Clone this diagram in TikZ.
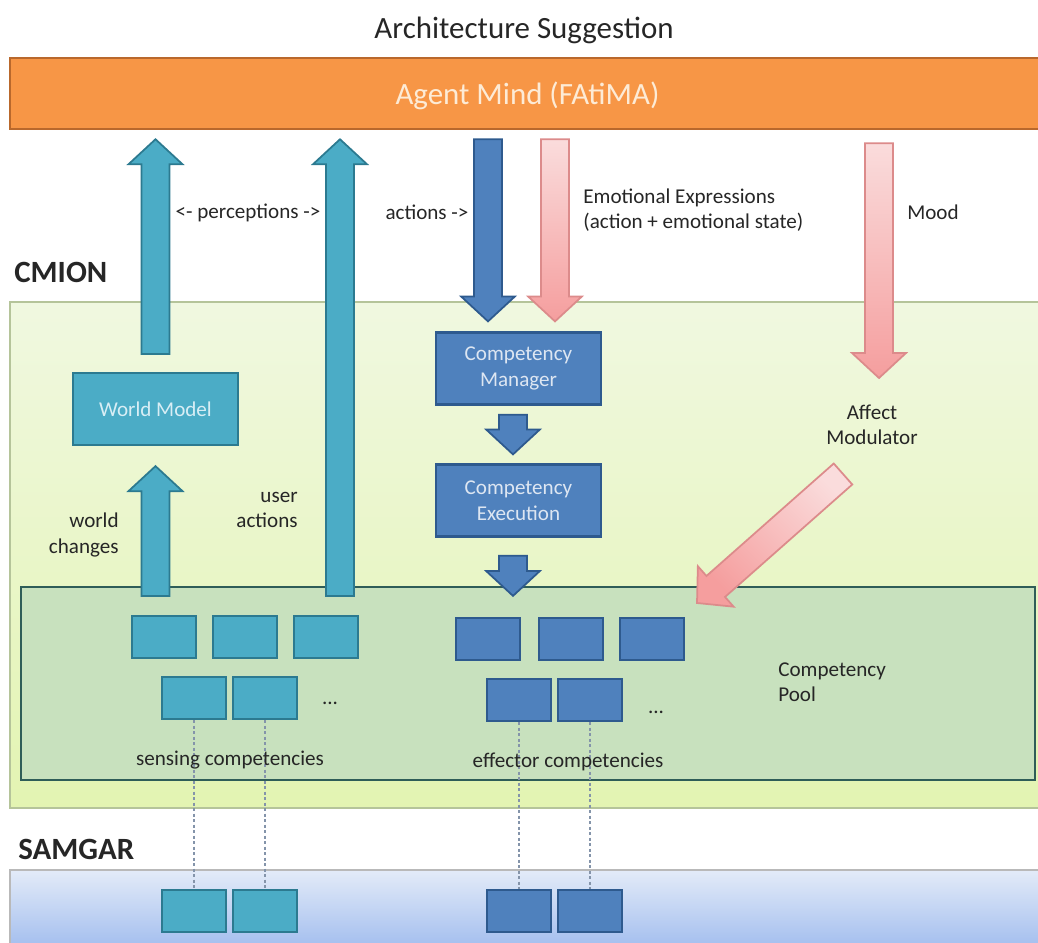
\documentclass[tikz,border=0pt]{standalone}
\usepackage{fontspec}
\setmainfont{Carlito}
\usepackage{tikz}
\usetikzlibrary{calc}

\definecolor{orng}{HTML}{F79646}
\definecolor{orngdk}{HTML}{B9682C}
\definecolor{mindtxt}{HTML}{FDEBD6}
\definecolor{aqua}{HTML}{4BACC6}
\definecolor{aquadk}{HTML}{2C7A90}
\definecolor{aqualt}{HTML}{D8EEF5}
\definecolor{blu}{HTML}{4F81BD}
\definecolor{bludk}{HTML}{2E5A8E}
\definecolor{blult}{HTML}{DDE6F2}
\definecolor{pinklt}{HTML}{FADCDC}
\definecolor{pinkdk}{HTML}{F59E9E}
\definecolor{pinkbd}{HTML}{DC8B8B}
\definecolor{cmiontop}{HTML}{F0F8E0}
\definecolor{cmionbot}{HTML}{E3F4B2}
\definecolor{cmionbd}{HTML}{B5C49A}
\definecolor{samtop}{HTML}{E3EBF8}
\definecolor{sambot}{HTML}{A6C0EF}
\definecolor{poolgr}{HTML}{C8E1BE}
\definecolor{pooldk}{HTML}{2F5D58}
\definecolor{dotgr}{HTML}{8494AA}
\definecolor{txt}{HTML}{262626}

% block arrow from #2 to #3, tip at #3
\newcommand{\fatarrow}[3]{%
  \coordinate (neck) at ($(#3)!5mm!(#2)$);
  \draw[#1] ($(#2)!2.8mm!90:(#3)$) -- ($(neck)!2.8mm!90:(#3)$)
    -- ($(neck)!5.4mm!90:(#3)$) -- (#3) -- ($(neck)!5.4mm!-90:(#3)$)
    -- ($(neck)!2.8mm!-90:(#3)$) -- ($(#2)!2.8mm!-90:(#3)$) -- cycle;}

\begin{document}
\begin{tikzpicture}[x=0.2mm, y=-0.2mm, font=\fontsize{12}{14.5}\selectfont, text=txt,
  big/.style={font=\fontsize{17.6}{21}\selectfont},
  hd/.style={font=\fontsize{17.6}{21}\selectfont\bfseries, anchor=west, inner sep=0pt},
  lbl/.style={inner sep=0pt, align=center},
  bx/.style={draw=bludk, fill=blu, line width=0.45mm, text=blult, align=center,
    minimum width=33mm, minimum height=14.4mm, inner sep=0pt},
  sq/.style={draw=bludk, fill=blu, line width=0.4mm, minimum width=12.8mm,
    minimum height=8.4mm, inner sep=0pt},
  sqa/.style={sq, draw=aquadk, fill=aqua},
  upa/.style={draw=aquadk, fill=aqua, line width=0.35mm},
  dna/.style={draw=bludk, fill=blu, line width=0.35mm},
  pk/.style={draw=pinkbd, top color=pinklt, bottom color=pinkdk, line width=0.35mm},
  dots/.style={draw=dotgr, line width=0.4mm, dash pattern=on 0.6mm off 0.5mm}]
  \useasboundingbox (0,0) rectangle (1038,942);

  % layers
  \draw[draw=cmionbd, line width=0.3mm, top color=cmiontop, bottom color=cmionbot]
    (10,302) rectangle (1045,808);
  \draw[draw=gray!55, line width=0.3mm, top color=samtop, bottom color=sambot]
    (10,870) rectangle (1045,944);
  \node[draw=pooldk, fill=poolgr, line width=0.45mm, minimum width=202.8mm,
    minimum height=38.6mm] (pool) at (528,683.5) {};

  \node[big] (title) at (524,30) {Architecture Suggestion};
  \node[big, fill=orng, draw=orngdk, line width=0.5mm, minimum width=207mm,
    minimum height=14.2mm, text=mindtxt, text depth=0pt] (mind) at (527.5,93.5) {Agent Mind (FAtiMA)};
  \node[hd] (cmion) at (14,272) {CMION};
  \node[hd] (samgar) at (18,849) {SAMGAR};

  \node[bx, fill=aqua, draw=aquadk, text=aqualt] (wm) at (155.5,409) {World Model};
  \node[bx] (cm) at (518.5,368.5) {Competency\\Manager};
  \node[bx] (ce) at (518.5,500.5) {Competency\\Execution};

  \node[sqa] (s1) at (163.5,637) {};
  \node[sqa] (s2) at (244.5,637) {};
  \node[sqa] (s3) at (325.5,637) {};
  \node[sqa] (s4) at (194,698) {};
  \node[sqa] (s5) at (264.5,698) {};
  \node[sq] (e1) at (488,639) {};
  \node[sq] (e2) at (571,639) {};
  \node[sq] (e3) at (652,639) {};
  \node[sq] (e4) at (519,700) {};
  \node[sq] (e5) at (590,700) {};

  \node[sqa] (g1) at (194,911) {};
  \node[sqa] (g2) at (264.5,911) {};
  \node[sq] (g3) at (519,911) {};
  \node[sq] (g4) at (590,911) {};

  \draw[dots] (s4.south) -- (g1.north);
  \draw[dots] (s5.south) -- (g2.north);
  \draw[dots] (e4.south) -- (g3.north);
  \draw[dots] (e5.south) -- (g4.north);

  % block arrows
  \coordinate (wm-top) at ($(wm.north)+(0,-18)$);
  \coordinate (wm-tip) at ($(wm.north |- mind.south)+(0,9)$);
  \coordinate (wc-foot) at ($(wm.south |- pool.north)+(0,10)$);
  \coordinate (wc-tip) at ($(wm.south)+(0,20)$);
  \coordinate (ua-foot) at ($(s3.north)+(14.5,-19)$);
  \coordinate (ua-tip) at ($(ua-foot |- mind.south)+(0,9)$);
  \coordinate (act-top) at ($(cm.north |- mind.south)+(-30.5,9)$);
  \coordinate (act-tip) at ($(cm.north)+(-30.5,-10)$);
  \coordinate (emo-top) at ($(cm.north |- mind.south)+(36.5,9)$);
  \coordinate (emo-tip) at ($(cm.north)+(36.5,-10)$);
  \coordinate (mood-top) at ($(mind.south)+(351.5,13)$);
  \coordinate (mood-tip) at (879,378);
  \coordinate (cm-foot) at ($(cm.south)+(-5.5,9)$);
  \coordinate (ce-tip) at ($(ce.north)+(-5.5,-9)$);
  \coordinate (ce-foot) at ($(ce.south)+(-5.5,18)$);
  \coordinate (pool-tip) at ($(ce.south |- pool.north)+(-5.5,10)$);
  \coordinate (mod-tail) at (843,474);
  \coordinate (mod-tip) at (697,603);

  \fatarrow{upa}{wm-top}{wm-tip}
  \fatarrow{upa}{wc-foot}{wc-tip}
  \fatarrow{upa}{ua-foot}{ua-tip}
  \fatarrow{dna}{act-top}{act-tip}
  \fatarrow{dna}{cm-foot}{ce-tip}
  \fatarrow{dna}{ce-foot}{pool-tip}
  \fatarrow{pk}{emo-top}{emo-tip}
  \fatarrow{pk}{mood-top}{mood-tip}
  \fatarrow{pk, shading angle=-45}{mod-tail}{mod-tip}

  \node[lbl] (perc) at (248,213) {<- perceptions ->};
  \node[lbl] (act) at (427,212) {actions ->};
  \node[lbl, anchor=west, align=left] (emo) at (583,210) {Emotional Expressions\\(action + emotional state)};
  \node[lbl] (mood) at (933,212) {Mood};
  \node[lbl] (affect) at (872,425) {Affect\\Modulator};
  \node[lbl, anchor=east, align=right] (wch) at (119,535) {world\\changes};
  \node[lbl, anchor=east, align=right] (uact) at (298,510) {user\\actions};
  \node[lbl] (senslbl) at (230,760) {sensing competencies};
  \node[lbl] (efflbl) at (568,762) {effector competencies};
  \node[lbl, anchor=west, align=left] (plbl) at (778,682) {Competency\\Pool};
  \node[lbl] (sdots) at (330,703) {...};
  \node[lbl] (edots) at (656,712) {...};
\end{tikzpicture}
\end{document}
